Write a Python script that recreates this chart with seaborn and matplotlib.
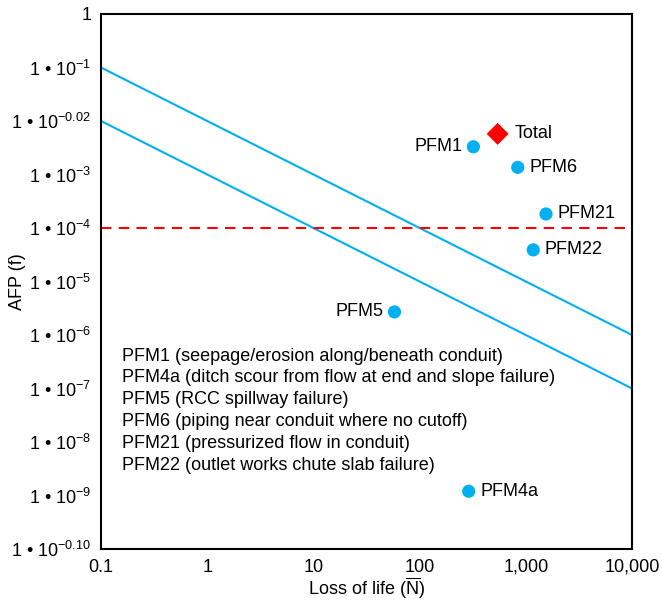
import matplotlib
matplotlib.use("Agg")
import matplotlib.pyplot as plt
import seaborn as sns
import numpy as np
import pandas as pd

# ---- data ----
pfm_names = ["PFM1", "PFM6", "PFM21", "PFM22", "PFM5", "PFM4a"]
pfm_n = [321, 840, 1550, 1175, 58, 290]
pfm_f = [3.3e-3, 1.36e-3, 1.83e-4, 3.9e-5, 2.7e-6, 1.2e-9]
total_n = [543]
total_f = [5.75e-3]
guide_x = [0.1, 10000]
guide_upper = [1e-1, 1e-6]
guide_lower = [1e-2, 1e-7]
threshold_f = 1e-4
x_ticks = [0.1, 1, 10, 100, 1000, 10000]
x_ticklabels = ["0.1", "1", "10", "100", "1,000", "10,000"]
y_ticks = [1, 1e-1, 1e-2, 1e-3, 1e-4, 1e-5, 1e-6, 1e-7, 1e-8, 1e-9, 1e-10]
y_exponents = ["", "-1", "-0.02", "-3", "-4", "-5", "-6", "-7", "-8", "-9", "-0.10"]
legend_lines = [
    "PFM1 (seepage/erosion along/beneath conduit)",
    "PFM4a (ditch scour from flow at end and slope failure)",
    "PFM5 (RCC spillway failure)",
    "PFM6 (piping near conduit where no cutoff)",
    "PFM21 (pressurized flow in conduit)",
    "PFM22 (outlet works chute slab failure)",
]

sns.set_style("white")
plt.rcParams["font.family"] = ["Liberation Sans", "DejaVu Sans"]
plt.rcParams["mathtext.fontset"] = "custom"
plt.rcParams["mathtext.rm"] = "Liberation Sans"
plt.rcParams["mathtext.it"] = "Liberation Sans:italic"
for k in ["text.color", "axes.labelcolor", "xtick.color", "ytick.color"]:
    plt.rcParams[k] = "black"

BLUE = "#00B0F0"
RED = "#FF0000"
FS = 13

fig = plt.figure(figsize=(6.62, 6.04), dpi=100)
ax = fig.add_axes([101 / 662, 1 - 549 / 604, 531 / 662, 535 / 604])

guides = pd.DataFrame({"x": guide_x + guide_x,
                       "f": guide_upper + guide_lower,
                       "g": ["u", "u", "l", "l"]})
sns.lineplot(data=guides, x="x", y="f", units="g", estimator=None,
             color=BLUE, lw=1.5, ax=ax, legend=False)
ax.axhline(threshold_f, color=RED, lw=1.5, ls=(0, (5, 3.5)))

pts = pd.DataFrame({"n": pfm_n, "f": pfm_f, "name": pfm_names})
sns.scatterplot(data=pts, x="n", y="f", color=BLUE, s=90, edgecolor="none",
                ax=ax, legend=False, zorder=5)
tot = pd.DataFrame({"n": total_n, "f": total_f})
sns.scatterplot(data=tot, x="n", y="f", color=RED, marker="D", s=125,
                edgecolor="none", ax=ax, legend=False, zorder=5)

ax.set_xscale("log")
ax.set_yscale("log")
ax.set_xlim(0.1, 10000)
ax.set_ylim(1e-10, 1)

offsets = {"PFM1": (-11, "right"), "PFM6": (12, "left"), "PFM21": (11, "left"),
           "PFM22": (11, "left"), "PFM5": (-11, "right"), "PFM4a": (12, "left")}
for name, n, f in zip(pfm_names, pfm_n, pfm_f):
    dx, ha = offsets[name]
    ax.annotate(name, (n, f), xytext=(dx, 0), textcoords="offset pixels",
                ha=ha, va="center", fontsize=FS, color="black")
ax.annotate("Total", (total_n[0], total_f[0]), xytext=(17, 0),
            textcoords="offset pixels", ha="left", va="center", fontsize=FS,
            color="black")

ax.text(0.04, 0.3765, "\n".join(legend_lines), transform=ax.transAxes,
        ha="left", va="top", fontsize=FS, linespacing=1.37, color="black")

ax.set_xticks(x_ticks)
ax.set_xticklabels(x_ticklabels, fontsize=FS)
ax.set_yticks(y_ticks)
ylabels = ["1" if e == "" else "1 \u2022 10$^{" + e.replace("-", "\u2212") + "}$"
           for e in y_exponents]
ax.set_yticklabels(ylabels, fontsize=FS)
ax.minorticks_off()
ax.tick_params(axis="both", length=0, pad=7, colors="black")

ax.set_xlabel(r"Loss of life ($\overline{\mathrm{N}}$)", fontsize=FS, labelpad=0)
ax.set_ylabel("AFP (f)", fontsize=FS)
ax.yaxis.set_label_coords(-0.141, 0.5)

for sp in ax.spines.values():
    sp.set_color("black")
    sp.set_linewidth(1.5)
    sp.set_visible(True)

fig.savefig("out.png", dpi=100)
